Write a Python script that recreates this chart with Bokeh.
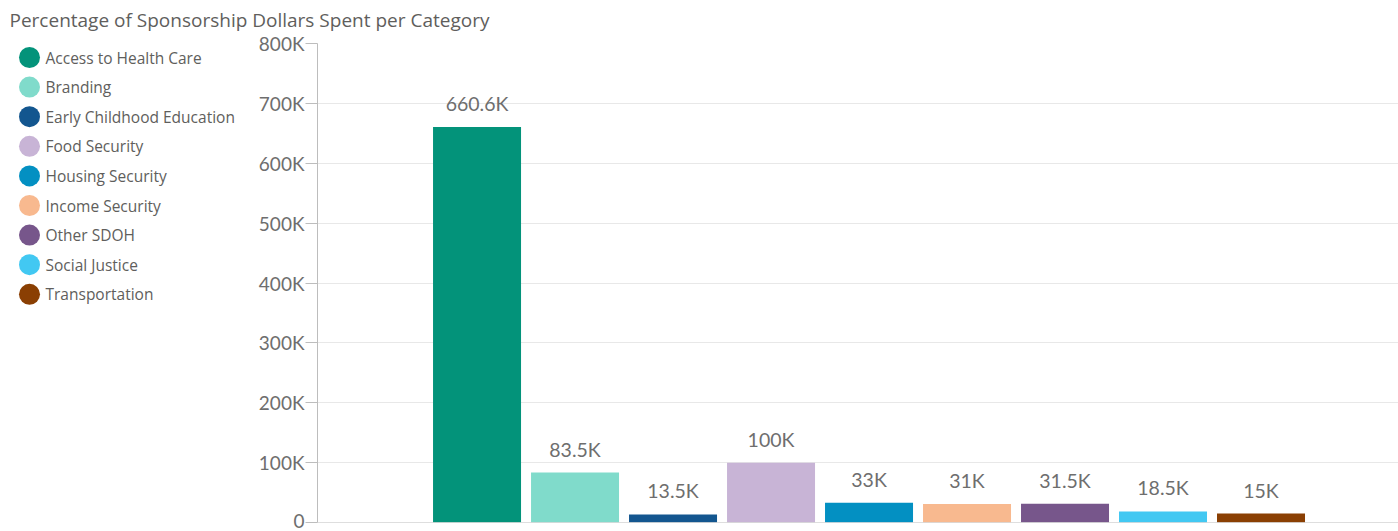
from bokeh.plotting import figure
from bokeh.layouts import column, row
from bokeh.models import (ColumnDataSource, Label, Span, FixedTicker, Range1d)
from bokeh.core.properties import value
from bokeh.embed import file_html
from bokeh.resources import INLINE

# ---- data ----
categories = ["Access to Health Care", "Branding", "Early Childhood Education",
              "Food Security", "Housing Security", "Income Security",
              "Other SDOH", "Social Justice", "Transportation"]
amounts = [660600, 83500, 13500, 100000, 33000, 31000, 31500, 18500, 15000]
amount_labels = ["660.6K", "83.5K", "13.5K", "100K", "33K", "31K", "31.5K", "18.5K", "15K"]
colors = ["#03937a", "#80dbcb", "#13568f", "#c8b4d6", "#0390c2",
          "#f8b98f", "#77568b", "#42c8f2", "#8a3f03"]
y_ticks = [0, 100000, 200000, 300000, 400000, 500000, 600000, 700000, 800000]
y_tick_labels = ["0", "100K", "200K", "300K", "400K", "500K", "600K", "700K", "800K"]
title_text = "Percentage of Sponsorship Dollars Spent per Category"

TEXT = "#605e5c"
TICK_TEXT = "#6e6e6e"

W, H = 1398, 531
TITLE_H = 31
LEG_W = 245
FRAME_LEFT = 317
FRAME_TOP = 43
FRAME_BOTTOM = 522

# ---- title strip ----
tfig = figure(width=W, height=TITLE_H, output_backend="svg", toolbar_location=None,
              x_range=Range1d(0, W), y_range=Range1d(TITLE_H, 0),
              min_border=0)
tfig.axis.visible = False
tfig.grid.visible = False
tfig.outline_line_color = None
tfig.add_layout(Label(x=9, y=19, text=title_text, text_font="Open Sans",
                      text_font_size="19px", text_color=TEXT,
                      text_baseline="middle", text_align="left"))

# ---- legend panel (frame aligned with main frame; y in canvas px) ----
LH = H - TITLE_H
lfig = figure(width=LEG_W, height=LH, output_backend="svg", toolbar_location=None,
              x_range=Range1d(0, LEG_W), y_range=Range1d(FRAME_BOTTOM, FRAME_TOP),
              min_border=0)
lfig.axis.visible = False
lfig.grid.visible = False
lfig.outline_line_color = None
n = len(categories)
leg_src = ColumnDataSource(dict(
    x=[29] * n,
    y=[57 + i * 29.6 for i in range(n)],
    tx=[45] * n,
    cat=categories,
    color=colors,
))
lfig.scatter(x="x", y="y", marker="circle", size=21, fill_color="color",
             line_color=None, source=leg_src)
lfig.text(x="tx", y="y", text="cat", source=leg_src, text_align="left",
          text_baseline="middle", text_font=value("Open Sans"),
          text_font_size="15.5px", text_color=TEXT)

# ---- main chart ----
src = ColumnDataSource(dict(
    x=list(range(n)),
    top=amounts,
    lab=amount_labels,
    color=colors,
    cat=categories,
))

p = figure(width=W - LEG_W, height=LH, output_backend="svg", toolbar_location=None,
           x_range=Range1d(-1.628, 9.403), y_range=Range1d(0, 800000),
           min_border_left=FRAME_LEFT - LEG_W, min_border_right=0,
           min_border_top=FRAME_TOP - TITLE_H, min_border_bottom=H - FRAME_BOTTOM)
p.outline_line_color = None
p.xaxis.visible = False
p.xgrid.visible = False
p.ygrid.grid_line_color = "#e8e8e8"

ya = p.yaxis[0]
ya.ticker = FixedTicker(ticks=y_ticks)
ya.major_label_overrides = {t: l for t, l in zip(y_ticks, y_tick_labels)}
ya.axis_line_color = "#bdbdbd"
ya.major_tick_line_color = "#bdbdbd"
ya.major_tick_out = 12
ya.major_tick_in = 0
ya.minor_tick_line_color = None
ya.major_label_standoff = 1
ya.major_label_text_font = "Lato"
ya.major_label_text_font_size = "19px"
ya.major_label_text_color = TICK_TEXT

p.add_layout(Span(location=0, dimension="width", line_color="#bdbdbd", line_width=1))

p.vbar(x="x", top="top", width=0.898, bottom=0, fill_color="color",
       line_color=None, source=src)

p.text(x="x", y="top", text="lab", source=src, text_align="center",
       text_baseline="bottom", y_offset=-12, text_font=value("Lato"),
       text_font_size="19.5px", text_color=TICK_TEXT)

open("out.html", "w").write(file_html(column(tfig, row(lfig, p)), INLINE))
